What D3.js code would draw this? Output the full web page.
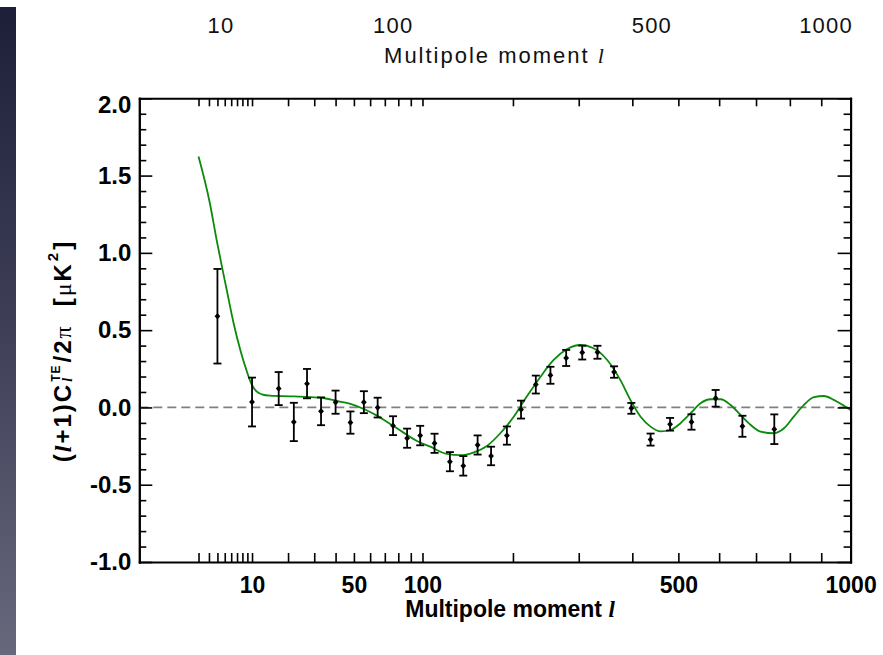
<!DOCTYPE html>
<html>
<head>
<meta charset="utf-8">
<script src="https://cdn.jsdelivr.net/npm/d3@7"></script>
<style>
  body { margin: 0; background: #fff; }
  svg { display: block; }
</style>
</head>
<body>
<script>
// Binned TE cross-power measurements: multipole, value (uK^2), 1-sigma error
const ell = [4, 10, 17, 22, 27, 33, 40, 48, 56, 65, 76, 87, 98, 111, 126, 140, 156, 172, 192, 211,
             232, 254, 279, 306, 333, 364, 398, 438, 481, 531, 591, 662, 753];
const te = [0.59, 0.035, 0.122, -0.094, 0.154, -0.025, 0.034, -0.098, 0.034, -0.001, -0.118, -0.199,
            -0.182, -0.232, -0.351, -0.378, -0.243, -0.314, -0.182, -0.014, 0.148, 0.208, 0.320,
            0.355, 0.357, 0.229, -0.006, -0.208, -0.109, -0.094, 0.059, -0.122, -0.141];
const teErr = [0.306, 0.158, 0.107, 0.124, 0.095, 0.090, 0.075, 0.072, 0.071, 0.064, 0.061, 0.062,
               0.063, 0.062, 0.062, 0.063, 0.062, 0.060, 0.059, 0.058, 0.058, 0.055, 0.052, 0.045,
               0.042, 0.037, 0.035, 0.039, 0.041, 0.050, 0.054, 0.068, 0.096];

// Best-fit model spectrum
const modelEll = [2, 3.1, 3.9, 4.6, 5.3, 6.4, 7.6, 8.9, 9.9, 11.1, 12.3, 14.5, 20.7, 26.9, 34, 40.7,
                  48, 56, 64.5, 73.9, 84.1, 95.2, 107, 123, 137, 151, 167, 183.5, 201, 219, 239, 259,
                  280, 303, 326, 351, 376, 396, 417, 438, 460, 482, 505, 529, 553, 578, 604, 630, 657,
                  685, 713, 752, 782, 812, 844, 876, 909, 942, 977, 1000];
const modelTE = [1.623, 1.321, 1.083, 0.911, 0.760, 0.545, 0.372, 0.232, 0.150, 0.102, 0.085, 0.076,
                 0.072, 0.068, 0.061, 0.042, 0.023, -0.010, -0.053, -0.107, -0.163, -0.217, -0.254,
                 -0.301, -0.309, -0.292, -0.249, -0.167, -0.060, 0.070, 0.199, 0.307, 0.376, 0.404,
                 0.383, 0.307, 0.178, 0.049, -0.060, -0.124, -0.155, -0.146, -0.102, -0.037, 0.027,
                 0.053, 0.053, 0.016, -0.049, -0.114, -0.157, -0.167, -0.135, -0.060, 0.016, 0.066,
                 0.074, 0.049, 0.010, -0.016];

// Tick marks and labels
const xTicks = [2, 3, 4, 5, 6, 7, 8, 9, 10, 20, 30, 40, 50, 60, 70, 80, 90, 100,
                200, 300, 400, 500, 600, 700, 800, 900, 1000];
const xLabels = [10, 50, 100, 500, 1000];
const yMajor = [-1.0, -0.5, 0.0, 0.5, 1.0, 1.5, 2.0];
const yMinor = [-0.9, -0.8, -0.7, -0.6, -0.4, -0.3, -0.2, -0.1, 0.1, 0.2, 0.3, 0.4,
                0.6, 0.7, 0.8, 0.9, 1.1, 1.2, 1.3, 1.4, 1.6, 1.7, 1.8, 1.9];
const upperLabels = [10, 100, 500, 1000];

const W = 883, H = 655;
const svg = d3.select("body").append("svg").attr("width", W).attr("height", H);
svg.append("rect").attr("width", W).attr("height", H).attr("fill", "#fff");

// dark slide edge on the left
const defs = svg.append("defs");
const grad = defs.append("linearGradient").attr("id", "edge")
  .attr("x1", 0).attr("y1", 0).attr("x2", 0).attr("y2", 1);
grad.append("stop").attr("offset", 0).attr("stop-color", "#1d1e38");
grad.append("stop").attr("offset", 0.5).attr("stop-color", "#3f4058");
grad.append("stop").attr("offset", 1).attr("stop-color", "#67687c");
svg.append("rect").attr("x", 0).attr("y", 7).attr("width", 16).attr("height", H - 7)
  .attr("fill", "url(#edge)");

// Scales: multipole axis is stretched as l^0.4
const x = d3.scalePow().exponent(0.4).domain([0, 1000]).range([139.3, 850.6]);
const y = d3.scaleLinear().domain([-1, 2]).range([562, 98.3]);

// Bottom axis labels of the panel above (cut by the frame)
const xu = d3.scalePow().exponent(0.4).domain([0, 1000]).range([107, 826]);
const upper = svg.append("g")
  .attr("font-family", "'Liberation Sans', Arial, sans-serif")
  .attr("font-size", 22).attr("fill", "#111").attr("letter-spacing", 1.2);
upper.selectAll("text.ul").data(upperLabels).join("text").attr("class", "ul")
  .attr("x", d => xu(d)).attr("y", 33).attr("text-anchor", "middle").text(d => d);
const ut = upper.append("text").attr("x", 495).attr("y", 63).attr("text-anchor", "middle")
  .attr("letter-spacing", 2);
ut.append("tspan").text("Multipole moment\u00a0");
ut.append("tspan").attr("font-style", "italic").attr("font-family", "'Liberation Serif', serif").text("l");

// zero reference
svg.append("line")
  .attr("x1", x(0)).attr("x2", x(1000)).attr("y1", y(0)).attr("y2", y(0))
  .attr("stroke", "#808080").attr("stroke-width", 1.7).attr("stroke-dasharray", "9,5");

// model curve
const model = modelEll.map((l, i) => [l, modelTE[i]]);
svg.append("path").datum(model)
  .attr("fill", "none").attr("stroke", "#0b8a0b").attr("stroke-width", 1.8)
  .attr("d", d3.line().x(d => x(d[0])).y(d => y(d[1])).curve(d3.curveMonotoneX));

// data with error bars
const pts = ell.map((l, i) => ({ l, v: te[i], e: teErr[i] }));
const eb = svg.append("g").attr("stroke", "#000").attr("stroke-width", 1.8).attr("fill", "none");
const cap = 4;
pts.forEach(p => {
  const cx = x(p.l), y0 = y(p.v - p.e), y1 = y(p.v + p.e);
  eb.append("line").attr("x1", cx).attr("x2", cx).attr("y1", y0).attr("y2", y1);
  eb.append("line").attr("x1", cx - cap).attr("x2", cx + cap).attr("y1", y0).attr("y2", y0);
  eb.append("line").attr("x1", cx - cap).attr("x2", cx + cap).attr("y1", y1).attr("y2", y1);
});
svg.append("g").selectAll("path").data(pts).join("path")
  .attr("fill", "#000")
  .attr("d", p => {
    const cx = x(p.l), cy = y(p.v), r = 3.2;
    return `M${cx},${cy - r}L${cx + r * 0.9},${cy}L${cx},${cy + r}L${cx - r * 0.9},${cy}Z`;
  });

// frame axes
function styleAxis(size) {
  return g => {
    g.select(".domain").attr("stroke", "#000").attr("stroke-width", 2).attr("stroke-linecap", "square");
    g.selectAll(".tick line").attr("stroke", "#000").attr("stroke-width", 1.6);
    g.selectAll(".tick text")
      .attr("font-family", "'Liberation Sans', Arial, Helvetica, sans-serif")
      .attr("font-weight", "bold").attr("font-size", size).attr("fill", "#000");
  };
}
svg.append("g").attr("transform", `translate(0,${y(-1)})`)
  .call(d3.axisBottom(x).tickValues(xTicks).tickSizeInner(-9).tickSizeOuter(0).tickPadding(15)
    .tickFormat(d => xLabels.includes(d) ? d : ""))
  .call(styleAxis(23));
svg.append("g").attr("transform", `translate(0,${y(2)})`)
  .call(d3.axisTop(x).tickValues(xTicks).tickSizeInner(-8).tickSizeOuter(0).tickFormat(""))
  .call(styleAxis(23));
svg.append("g").attr("transform", `translate(${x(0)},0)`)
  .call(d3.axisLeft(y).tickValues(yMinor).tickSizeInner(-7).tickSizeOuter(0).tickFormat(""))
  .call(styleAxis(24));
const leftMajor = svg.append("g").attr("transform", `translate(${x(0)},0)`)
  .call(d3.axisLeft(y).tickValues(yMajor).tickSizeInner(-13).tickSizeOuter(0).tickPadding(8)
    .tickFormat(d => d.toFixed(1)))
  .call(styleAxis(24));
leftMajor.selectAll(".tick").filter(d => d === 2).select("text").attr("transform", "translate(0,7)");
svg.append("g").attr("transform", `translate(${x(1000)},0)`)
  .call(d3.axisRight(y).tickValues(yMinor).tickSizeInner(-7).tickSizeOuter(0).tickFormat(""))
  .call(styleAxis(24));
svg.append("g").attr("transform", `translate(${x(1000)},0)`)
  .call(d3.axisRight(y).tickValues(yMajor).tickSizeInner(-13).tickSizeOuter(0).tickFormat(""))
  .call(styleAxis(24));

// x title
const xt = svg.append("text").attr("x", 510).attr("y", 617).attr("text-anchor", "middle")
  .attr("font-family", "'Liberation Sans', Arial, sans-serif").attr("font-weight", "bold")
  .attr("font-size", 23).attr("fill", "#000");
xt.append("tspan").text("Multipole moment\u00a0");
xt.append("tspan").attr("font-style", "italic").attr("font-family", "'Liberation Serif', serif").text("l");

// y title, assembled piece by piece along the rotated baseline
const yl = svg.append("g").attr("transform", "translate(71,351) rotate(-90)");
const inner = yl.append("g");
const sans = "'Liberation Sans', Arial, sans-serif", serif = "'Liberation Serif', serif";
const pieces = [
  { t: "(", fam: sans }, { t: "l", fam: serif, it: true }, { t: "+1)C", fam: sans },
  { sup: "TE", sub: "l" },
  { t: "/2", fam: sans }, { t: "\u03c0", fam: serif, bold: false },
  { gap: 18 }, { t: "[", fam: sans }, { t: "\u03bc", fam: serif, bold: false }, { t: "K", fam: sans },
  { sup: "2" }, { t: "]", fam: sans }
];
let cur = 0;
pieces.forEach(p => {
  if (p.gap !== undefined) {
    cur += p.gap;
  } else if (p.sup !== undefined) {
    const s = inner.append("text").attr("x", cur + 1).attr("y", p.sub ? -11 : -13)
      .attr("font-family", sans).attr("font-weight", "bold").attr("letter-spacing", 1)
      .attr("font-size", p.sub ? 12 : 15).text(p.sup);
    let w = s.node().getComputedTextLength();
    if (p.sub) {
      const b = inner.append("text").attr("x", cur + 1).attr("y", 1)
        .attr("font-family", serif).attr("font-style", "italic").attr("font-weight", "bold")
        .attr("font-size", 14).text(p.sub);
      w = Math.max(w, b.node().getComputedTextLength());
    }
    cur += w + 3;
  } else {
    const t = inner.append("text").attr("x", cur).attr("y", 0)
      .attr("font-family", p.fam).attr("font-size", 24).attr("letter-spacing", 2)
      .attr("font-weight", p.bold === false ? "normal" : "bold")
      .attr("font-style", p.it ? "italic" : "normal").text(p.t);
    cur += t.node().getComputedTextLength();
  }
});
inner.attr("transform", `translate(${-cur / 2},0)`).attr("fill", "#000");
</script>
</body>
</html>
